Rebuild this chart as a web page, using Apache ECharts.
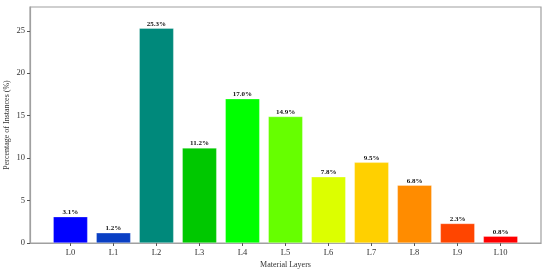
<!DOCTYPE html>
<html>
<head>
<meta charset="utf-8">
<script src="https://cdn.jsdelivr.net/npm/echarts@6/dist/echarts.min.js"></script>
<style>html,body{margin:0;padding:0;background:#fff}#c{width:550px;height:272px}</style>
</head>
<body>
<div id="c"></div>
<script>
var categories = ['L0','L1','L2','L3','L4','L5','L6','L7','L8','L9','L10'];
var values = [3.1, 1.2, 25.3, 11.2, 17.0, 14.9, 7.8, 9.5, 6.8, 2.3, 0.8];
var colors = ['#0000ff','#0a3fc4','#00897b','#00c800','#00ff00','#66ff00','#dcff00','#ffd000','#ff8c00','#ff4500','#ff0000'];
var yTicks = [0, 5, 10, 15, 20, 25];

var FONT = '"Liberation Serif","Times New Roman",serif';
var chart = echarts.init(document.getElementById('c'), null, {renderer: 'canvas'});
var gridLeft = 30, gridRight = 9;
var plotW = 550 - gridLeft - gridRight;
var xMin = -0.94, xMax = 10.94;
var barW = plotW / (xMax - xMin) * 0.8;

var data = values.map(function (v, i) {
  return {value: [i, v], itemStyle: {color: colors[i]}};
});

chart.setOption({
  animation: false,
  grid: {left: gridLeft, right: gridRight, top: 7, bottom: 29, show: true, borderColor: '#a0a0a0', borderWidth: 1.2, containLabel: false, outerBoundsMode: 'none'},
  xAxis: {
    type: 'value', min: xMin, max: xMax,
    name: 'Material Layers', nameLocation: 'middle', nameGap: 18, nameMoveOverlap: false,
    nameTextStyle: {fontFamily: FONT, fontSize: 8, color: '#333'},
    axisLine: {show: true, onZero: false, lineStyle: {color: '#a0a0a0', width: 1.2}},
    axisTick: {show: true, customValues: categories.map(function (c, i) { return i; }), length: 3, lineStyle: {color: '#555'}},
    axisLabel: {customValues: categories.map(function (c, i) { return i; }), formatter: function (v) { return categories[Math.round(v)]; }, fontFamily: FONT, fontSize: 8.5, color: '#333', margin: 5},
    splitLine: {show: false}
  },
  yAxis: {
    type: 'value', min: 0, max: 27.8,
    name: 'Percentage of Instances (%)', nameLocation: 'middle', nameGap: 19, nameMoveOverlap: false,
    nameTextStyle: {fontFamily: FONT, fontSize: 8, color: '#333'},
    axisLine: {show: true, onZero: false, lineStyle: {color: '#a0a0a0', width: 1.2}},
    axisTick: {show: true, customValues: yTicks, length: 3, lineStyle: {color: '#555'}},
    axisLabel: {customValues: yTicks, fontFamily: FONT, fontSize: 8.5, color: '#333', margin: 5},
    splitLine: {show: false}
  },
  series: [{
    type: 'bar',
    data: data,
    barWidth: barW,
    itemStyle: {borderColor: 'rgba(255,255,255,0.6)', borderWidth: 0.5},
    label: {show: true, position: 'top', distance: 1, fontFamily: FONT, fontWeight: 'bold', fontSize: 7, color: '#111',
      formatter: function (p) { return p.value[1].toFixed(1) + '%'; }}
  }]
});
</script>
</body>
</html>
